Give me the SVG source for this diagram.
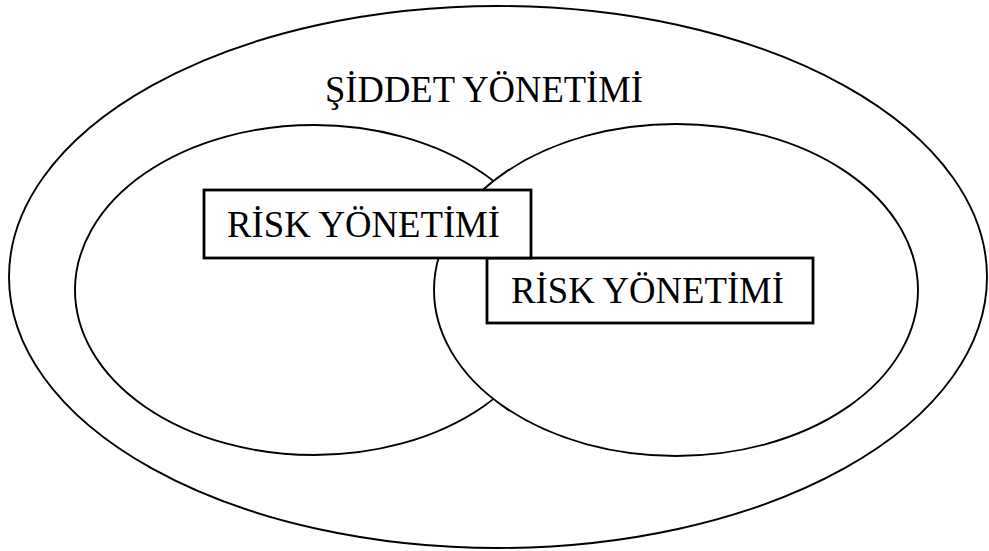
<svg xmlns="http://www.w3.org/2000/svg" width="989" height="551" viewBox="0 0 989 551">
<style>
.ell{fill:none;stroke:#000;stroke-width:1.9}
.ellw{fill:#fff;stroke:#000;stroke-width:1.9}
.box{fill:#fff;stroke:#000;stroke-width:2.8}
.lbl{font-family:"Liberation Serif","Times New Roman",serif;font-size:38px;fill:#000}
</style>
<rect width="989" height="551" fill="#fff"/>
<g id="siddet-yonetimi">
<ellipse class="ell" cx="498" cy="277" rx="489" ry="271"/>
<text class="lbl" x="325" y="102" textLength="318" lengthAdjust="spacingAndGlyphs">ŞİDDET YÖNETİMİ</text>
</g>
<g id="left-circle">
<ellipse class="ellw" cx="314" cy="290" rx="239" ry="165"/>
</g>
<g id="right-circle">
<ellipse class="ellw" cx="676" cy="290" rx="242" ry="166"/>
</g>
<g id="connectors"></g>
<g id="risk-2">
<rect class="box" x="487" y="258" width="326" height="65"/>
<text class="lbl" x="511" y="303" textLength="273" lengthAdjust="spacingAndGlyphs">RİSK YÖNETİMİ</text>
</g>
<g id="risk-1">
<rect class="box" x="204" y="190" width="327" height="68"/>
<text class="lbl" x="227" y="237" textLength="273" lengthAdjust="spacingAndGlyphs">RİSK YÖNETİMİ</text>
</g>
</svg>
